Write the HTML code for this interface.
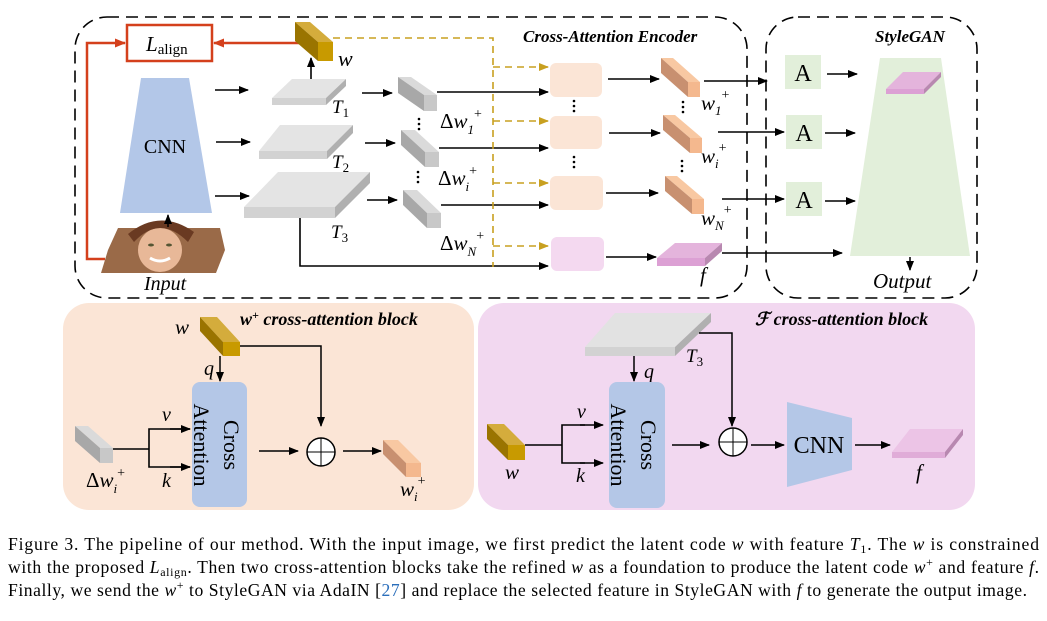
<!DOCTYPE html>
<html><head><meta charset="utf-8"><style>body{margin:0;background:#fff}svg{display:block}</style></head><body>
<svg width="1047" height="621" viewBox="0 0 1047 621" xmlns="http://www.w3.org/2000/svg" font-family="Liberation Serif, serif">
<defs>
<marker id="a" markerWidth="10" markerHeight="8" refX="9" refY="4" orient="auto" markerUnits="userSpaceOnUse"><path d="M0,0 L10,4 L0,8 z" fill="#000"/></marker>
<marker id="ag" markerWidth="10" markerHeight="8" refX="9" refY="4" orient="auto" markerUnits="userSpaceOnUse"><path d="M0,0 L10,4 L0,8 z" fill="#c8a020"/></marker>
<marker id="ar" markerWidth="11" markerHeight="9" refX="10" refY="4.5" orient="auto" markerUnits="userSpaceOnUse"><path d="M0,0 L11,4.5 L0,9 z" fill="#d4401c"/></marker>
</defs>

<rect x="75" y="17" width="672" height="281" rx="32" fill="none" stroke="#000" stroke-width="1.6" stroke-dasharray="12,7"/>
<rect x="766" y="17" width="211" height="281" rx="32" fill="none" stroke="#000" stroke-width="1.6" stroke-dasharray="12,7"/>
<text x="523" y="42" font-size="17" font-weight="bold" font-style="italic">Cross-Attention Encoder</text>
<text x="875" y="42" font-size="17" font-weight="bold" font-style="italic">StyleGAN</text>

<rect x="127" y="25" width="85" height="36" fill="none" stroke="#d4401c" stroke-width="2.5"/>
<text x="146" y="51" font-size="21" font-style="italic">L<tspan font-size="15" font-style="normal" dy="3">align</tspan></text>
<line x1="300" y1="43" x2="214" y2="43" stroke="#d4401c" stroke-width="2.5" marker-end="url(#ar)"/>
<polyline points="105,259 87,259 87,43 125,43" fill="none" stroke="#d4401c" stroke-width="2.5" marker-end="url(#ar)"/>

<polygon points="141,78 189,78 212,213 120,213" fill="#b3c7e8"/>
<text x="165" y="153" font-size="20" text-anchor="middle">CNN</text>
<polygon points="118,228 220,228 225,250 216,273 101,273 108,250" fill="#9a6a48"/>
<ellipse cx="160" cy="250" rx="22" ry="22" fill="#e8b898"/>
<path d="M134,242 Q160,214 188,242 L194,232 Q160,208 128,234 z" fill="#6a3a22"/>
<ellipse cx="151" cy="245" rx="3" ry="1.5" fill="#553"/><ellipse cx="169" cy="245" rx="3" ry="1.5" fill="#553"/>
<path d="M150,258 Q160,264 170,258" stroke="#fff" stroke-width="3" fill="none"/>
<line x1="168" y1="227" x2="168" y2="215" stroke="#000" stroke-width="1.5" marker-end="url(#a)"/>
<text x="144" y="290" font-size="20" font-style="italic">Input</text>

<line x1="215" y1="90" x2="248" y2="90" stroke="#000" stroke-width="1.6" marker-end="url(#a)"/>
<line x1="216" y1="142" x2="250" y2="142" stroke="#000" stroke-width="1.6" marker-end="url(#a)"/>
<line x1="215" y1="196" x2="249" y2="196" stroke="#000" stroke-width="1.6" marker-end="url(#a)"/>

<g>
<polygon points="292,79 346,79 326,98 272,98" fill="#e4e4e4"/><rect x="272" y="98" width="54" height="7" fill="#d2d2d2"/><polygon points="326,98 346,79 346,86 326,105" fill="#b0b0b0"/>
<polygon points="280,125 353,125 327,151 259,151" fill="#e4e4e4"/><rect x="259" y="151" width="68" height="8" fill="#d2d2d2"/><polygon points="327,151 353,125 353,133 327,159" fill="#b0b0b0"/>
<polygon points="278,172 370,172 335,207 244,207" fill="#e4e4e4"/><rect x="244" y="207" width="91" height="11" fill="#d2d2d2"/><polygon points="335,207 370,172 370,183 335,218" fill="#b0b0b0"/>
</g>
<text x="332" y="113" font-size="19" font-style="italic">T<tspan font-size="13" font-style="normal" dy="4">1</tspan></text>
<text x="332" y="168" font-size="19" font-style="italic">T<tspan font-size="13" font-style="normal" dy="4">2</tspan></text>
<text x="331" y="238" font-size="19" font-style="italic">T<tspan font-size="13" font-style="normal" dy="4">3</tspan></text>
<line x1="311" y1="79" x2="311" y2="58" stroke="#000" stroke-width="1.6" marker-end="url(#a)"/>

<polygon points="295,22 310,22 333,42 318,42" fill="#d4ac3c"/><polygon points="295,22 318,42 318,61 295,41" fill="#9a7400"/><rect x="318" y="42" width="15" height="19" fill="#c89a00"/>
<text x="338" y="66" font-size="22" font-style="italic">w</text>

<line x1="362" y1="93" x2="392" y2="93" stroke="#000" stroke-width="1.6" marker-end="url(#a)"/>
<line x1="365" y1="143" x2="395" y2="143" stroke="#000" stroke-width="1.6" marker-end="url(#a)"/>
<line x1="367" y1="200" x2="397" y2="200" stroke="#000" stroke-width="1.6" marker-end="url(#a)"/>

<polygon points="398,77 411,77 437,95 424,95" fill="#dadada"/><polygon points="398,77 424,95 424,111 398,93" fill="#a8a8a8"/><rect x="424" y="95" width="13" height="16" fill="#c8c8c8"/>
<polygon points="401,130 415,130 439,152 425,152" fill="#dadada"/><polygon points="401,130 425,152 425,167 401,145" fill="#a8a8a8"/><rect x="425" y="152" width="14" height="15" fill="#c8c8c8"/>
<polygon points="403,190 417,190 441,213 427,213" fill="#dadada"/><polygon points="403,190 427,213 427,228 403,205" fill="#a8a8a8"/><rect x="427" y="213" width="14" height="15" fill="#c8c8c8"/>
<g fill="#000"><circle cx="419" cy="119" r="1.3"/><circle cx="419" cy="124" r="1.3"/><circle cx="419" cy="129" r="1.3"/>
<circle cx="418" cy="172" r="1.3"/><circle cx="418" cy="177" r="1.3"/><circle cx="418" cy="182" r="1.3"/></g>
<text x="440" y="128" font-size="21"><tspan>Δ</tspan><tspan font-style="italic">w</tspan><tspan font-size="13" font-style="italic" dy="6">1</tspan><tspan font-size="14" dy="-16">+</tspan></text>
<text x="438" y="185" font-size="21"><tspan>Δ</tspan><tspan font-style="italic">w</tspan><tspan font-size="13" font-style="italic" dy="6">i</tspan><tspan font-size="14" dy="-16">+</tspan></text>
<text x="440" y="250" font-size="21"><tspan>Δ</tspan><tspan font-style="italic">w</tspan><tspan font-size="13" font-style="italic" dy="6">N</tspan><tspan font-size="14" dy="-16">+</tspan></text>

<line x1="437" y1="92" x2="548" y2="92" stroke="#000" stroke-width="1.6" marker-end="url(#a)"/>
<line x1="439" y1="148" x2="548" y2="148" stroke="#000" stroke-width="1.6" marker-end="url(#a)"/>
<line x1="441" y1="205" x2="548" y2="205" stroke="#000" stroke-width="1.6" marker-end="url(#a)"/>
<polyline points="300,218 300,266 548,266" fill="none" stroke="#000" stroke-width="1.6" marker-end="url(#a)"/>

<polyline points="333,38 493,38 493,267" fill="none" stroke="#c8a020" stroke-width="1.6" stroke-dasharray="7,5"/>
<g stroke="#c8a020" stroke-width="1.6" stroke-dasharray="7,5" marker-end="url(#ag)">
<line x1="493" y1="67" x2="548" y2="67"/><line x1="493" y1="121" x2="548" y2="121"/><line x1="493" y1="183" x2="548" y2="183"/><line x1="493" y1="246" x2="548" y2="246"/></g>

<rect x="550" y="63" width="52" height="34" rx="6" fill="#fbe5d6"/>
<rect x="550" y="116" width="52" height="33" rx="6" fill="#fbe5d6"/>
<rect x="550" y="176" width="53" height="34" rx="6" fill="#fbe5d6"/>
<rect x="551" y="237" width="53" height="34" rx="6" fill="#f4d9f0"/>
<g fill="#000"><circle cx="574" cy="101" r="1.3"/><circle cx="574" cy="106" r="1.3"/><circle cx="574" cy="111" r="1.3"/>
<circle cx="574" cy="157" r="1.3"/><circle cx="574" cy="162" r="1.3"/><circle cx="574" cy="167" r="1.3"/>
<circle cx="683" cy="102" r="1.3"/><circle cx="683" cy="107" r="1.3"/><circle cx="683" cy="112" r="1.3"/>
<circle cx="682" cy="161" r="1.3"/><circle cx="682" cy="166" r="1.3"/><circle cx="682" cy="171" r="1.3"/></g>

<line x1="608" y1="79" x2="659" y2="79" stroke="#000" stroke-width="1.6" marker-end="url(#a)"/>
<line x1="609" y1="133" x2="660" y2="133" stroke="#000" stroke-width="1.6" marker-end="url(#a)"/>
<line x1="606" y1="193" x2="658" y2="193" stroke="#000" stroke-width="1.6" marker-end="url(#a)"/>
<line x1="606" y1="257" x2="656" y2="257" stroke="#000" stroke-width="1.6" marker-end="url(#a)"/>

<polygon points="661,58 673,58 700,82 688,82" fill="#f8c8a2"/><polygon points="661,58 688,82 688,97 661,73" fill="#c89070"/><rect x="688" y="82" width="12" height="15" fill="#f4b88e"/>
<polygon points="663,115 675,115 702,138 690,138" fill="#f8c8a2"/><polygon points="663,115 690,138 690,153 663,130" fill="#c89070"/><rect x="690" y="138" width="12" height="15" fill="#f4b88e"/>
<polygon points="665,176 677,176 704,199 692,199" fill="#f8c8a2"/><polygon points="665,176 692,199 692,214 665,191" fill="#c89070"/><rect x="692" y="199" width="12" height="15" fill="#f4b88e"/>
<text x="701" y="110" font-size="21" font-style="italic">w<tspan font-size="13" dy="5">1</tspan><tspan font-size="14" font-style="normal" dy="-16">+</tspan></text>
<text x="701" y="163" font-size="21" font-style="italic">w<tspan font-size="13" dy="5">i</tspan><tspan font-size="14" font-style="normal" dy="-16">+</tspan></text>
<text x="701" y="225" font-size="21" font-style="italic">w<tspan font-size="13" dy="5">N</tspan><tspan font-size="14" font-style="normal" dy="-16">+</tspan></text>
<polygon points="675,243 722,243 705,258 657,258" fill="#e4b4dc"/><rect x="657" y="258" width="48" height="8" fill="#dca0d4"/><polygon points="705,258 722,243 722,251 705,266" fill="#b888b0"/>
<text x="700" y="282" font-size="21" font-style="italic">f</text>

<line x1="704" y1="81" x2="767" y2="81" stroke="#000" stroke-width="1.6" marker-end="url(#a)"/>
<line x1="718" y1="132" x2="784" y2="132" stroke="#000" stroke-width="1.6" marker-end="url(#a)"/>
<line x1="722" y1="199" x2="784" y2="199" stroke="#000" stroke-width="1.6" marker-end="url(#a)"/>
<line x1="722" y1="253" x2="842" y2="253" stroke="#000" stroke-width="1.6" marker-end="url(#a)"/>

<rect x="785" y="55" width="36" height="34" fill="#e2efda"/><text x="803" y="81" font-size="24" text-anchor="middle">A</text>
<rect x="786" y="115" width="36" height="34" fill="#e2efda"/><text x="804" y="141" font-size="24" text-anchor="middle">A</text>
<rect x="786" y="182" width="36" height="34" fill="#e2efda"/><text x="804" y="208" font-size="24" text-anchor="middle">A</text>
<line x1="827" y1="74" x2="857" y2="74" stroke="#000" stroke-width="1.6" marker-end="url(#a)"/>
<line x1="825" y1="133" x2="855" y2="133" stroke="#000" stroke-width="1.6" marker-end="url(#a)"/>
<line x1="825" y1="201" x2="855" y2="201" stroke="#000" stroke-width="1.6" marker-end="url(#a)"/>
<polygon points="880,58 941,58 970,256 850,256" fill="#e2efda"/>
<polygon points="903,72 941,72 924,89 886,89" fill="#e4b4dc"/><rect x="886" y="89" width="38" height="5" fill="#dca0d4"/><polygon points="924,89 941,72 941,77 924,94" fill="#b888b0"/>
<line x1="910" y1="257" x2="910" y2="270" stroke="#000" stroke-width="1.5" marker-end="url(#a)"/>
<text x="873" y="288" font-size="21" font-style="italic">Output</text>

<rect x="63" y="303" width="411" height="207" rx="26" fill="#fbe5d6"/>
<text x="240" y="325" font-size="18" font-weight="bold" font-style="italic">w<tspan font-size="12" dy="-6">+</tspan><tspan dy="6"> cross-attention block</tspan></text>
<text x="175" y="334" font-size="21" font-style="italic">w</text>
<polygon points="200,317 217,317 240,342 223,342" fill="#d4ac3c"/><polygon points="200,317 223,342 223,356 200,331" fill="#9a7400"/><rect x="223" y="342" width="17" height="14" fill="#c89a00"/>
<line x1="220" y1="356" x2="220" y2="381" stroke="#000" stroke-width="1.5" marker-end="url(#a)"/>
<text x="204" y="375" font-size="20" font-style="italic">q</text>
<polyline points="240,346 321,346 321,426" fill="none" stroke="#000" stroke-width="1.5" marker-end="url(#a)"/>
<rect x="192" y="382" width="55" height="125" rx="8" fill="#b4c7e7"/>
<text transform="translate(224,445) rotate(90)" font-size="22" text-anchor="middle">Cross</text>
<text transform="translate(194,445) rotate(90)" font-size="22" text-anchor="middle">Attention</text>
<polygon points="75,426 88,426 113,448 100,448" fill="#dadada"/><polygon points="75,426 100,448 100,463 75,441" fill="#a8a8a8"/><rect x="100" y="448" width="13" height="15" fill="#c8c8c8"/>
<polyline points="113,449 149,449" fill="none" stroke="#000" stroke-width="1.6"/>
<polyline points="190,429 149,429 149,467 190,467" fill="none" stroke="#000" stroke-width="1.6"/>
<line x1="170" y1="429" x2="190" y2="429" stroke="#000" stroke-width="1.6" marker-end="url(#a)"/>
<line x1="170" y1="467" x2="190" y2="467" stroke="#000" stroke-width="1.6" marker-end="url(#a)"/>
<text x="162" y="421" font-size="20" font-style="italic">v</text>
<text x="162" y="487" font-size="20" font-style="italic">k</text>
<text x="86" y="487" font-size="21"><tspan>Δ</tspan><tspan font-style="italic">w</tspan><tspan font-size="13" font-style="italic" dy="6">i</tspan><tspan font-size="14" dy="-16">+</tspan></text>
<line x1="259" y1="451" x2="298" y2="451" stroke="#000" stroke-width="1.6" marker-end="url(#a)"/>
<circle cx="321" cy="452" r="14" fill="#fff" stroke="#000" stroke-width="1.5"/><line x1="307" y1="452" x2="335" y2="452" stroke="#000"/><line x1="321" y1="438" x2="321" y2="466" stroke="#000"/>
<line x1="343" y1="451" x2="381" y2="451" stroke="#000" stroke-width="1.6" marker-end="url(#a)"/>
<polygon points="383,440 398,440 421,463 406,463" fill="#f8c8a2"/><polygon points="383,440 406,463 406,477 383,454" fill="#c89070"/><rect x="406" y="463" width="15" height="14" fill="#f4b88e"/>
<text x="400" y="496" font-size="21" font-style="italic">w<tspan font-size="13" dy="5">i</tspan><tspan font-size="14" font-style="normal" dy="-16">+</tspan></text>

<rect x="478" y="303" width="497" height="207" rx="26" fill="#f2d8f0"/>
<text x="755" y="325" font-size="18" font-weight="bold" font-style="italic">ℱ cross-attention block</text>
<polygon points="615,313 711,313 675,347 585,347" fill="#e2e2e2"/><rect x="585" y="347" width="90" height="9" fill="#d2d2d2"/><polygon points="675,347 711,313 711,322 675,356" fill="#b0b0b0"/>
<text x="686" y="362" font-size="19" font-style="italic">T<tspan font-size="13" font-style="normal" dy="4">3</tspan></text>
<polyline points="699,333 732,333 732,426" fill="none" stroke="#000" stroke-width="1.5" marker-end="url(#a)"/>
<line x1="634" y1="356" x2="634" y2="381" stroke="#000" stroke-width="1.5" marker-end="url(#a)"/>
<text x="644" y="378" font-size="20" font-style="italic">q</text>
<rect x="609" y="382" width="56" height="126" rx="8" fill="#b4c7e7"/>
<text transform="translate(641,445) rotate(90)" font-size="22" text-anchor="middle">Cross</text>
<text transform="translate(611,445) rotate(90)" font-size="22" text-anchor="middle">Attention</text>
<polygon points="487,424 504,424 525,445 508,445" fill="#d4ac3c"/><polygon points="487,424 508,445 508,460 487,439" fill="#9a7400"/><rect x="508" y="445" width="17" height="15" fill="#c89a00"/>
<text x="505" y="479" font-size="21" font-style="italic">w</text>
<line x1="525" y1="445" x2="562" y2="445" stroke="#000" stroke-width="1.6"/>
<polyline points="585,425 562,425 562,463 585,463" fill="none" stroke="#000" stroke-width="1.6"/>
<line x1="580" y1="425" x2="603" y2="425" stroke="#000" stroke-width="1.6" marker-end="url(#a)"/>
<line x1="580" y1="463" x2="603" y2="463" stroke="#000" stroke-width="1.6" marker-end="url(#a)"/>
<text x="577" y="418" font-size="20" font-style="italic">v</text>
<text x="576" y="482" font-size="20" font-style="italic">k</text>
<line x1="672" y1="445" x2="709" y2="445" stroke="#000" stroke-width="1.6" marker-end="url(#a)"/>
<circle cx="733" cy="442" r="14" fill="#fff" stroke="#000" stroke-width="1.5"/><line x1="719" y1="442" x2="747" y2="442" stroke="#000"/><line x1="733" y1="428" x2="733" y2="456" stroke="#000"/>
<line x1="751" y1="445" x2="784" y2="445" stroke="#000" stroke-width="1.6" marker-end="url(#a)"/>
<polygon points="787,402 852,418 852,470 787,487" fill="#b4c7e7"/>
<text x="819" y="453" font-size="24" text-anchor="middle">CNN</text>
<line x1="855" y1="445" x2="890" y2="445" stroke="#000" stroke-width="1.6" marker-end="url(#a)"/>
<polygon points="910,429 963,429 945,452 892,452" fill="#ecc4e6"/><rect x="892" y="452" width="53" height="6" fill="#e0acd8"/><polygon points="945,452 963,429 963,435 945,458" fill="#b888b0"/>
<text x="916" y="479" font-size="21" font-style="italic">f</text>

<g font-size="17.6">
<text x="8" y="550" textLength="1031" lengthAdjust="spacing">Figure 3.  The pipeline of our method.  With the input image, we first predict the latent code <tspan font-style="italic">w</tspan> with feature <tspan font-style="italic">T</tspan><tspan font-size="12" dy="3">1</tspan><tspan dy="-3">.  The </tspan><tspan font-style="italic">w</tspan> is constrained</text>
<text x="8" y="573" textLength="1031" lengthAdjust="spacing">with the proposed <tspan font-style="italic">L</tspan><tspan font-size="12" dy="3">align</tspan><tspan dy="-3">. Then two cross-attention blocks take the refined </tspan><tspan font-style="italic">w</tspan> as a foundation to produce the latent code <tspan font-style="italic">w</tspan><tspan font-size="12" dy="-7">+</tspan><tspan dy="7"> and feature </tspan><tspan font-style="italic">f</tspan>.</text>
<text x="8" y="596" textLength="1019" lengthAdjust="spacing">Finally, we send the <tspan font-style="italic">w</tspan><tspan font-size="12" dy="-7">+</tspan><tspan dy="7"> to StyleGAN via AdaIN [</tspan><tspan fill="#2a6ebb">27</tspan>] and replace the selected feature in StyleGAN with <tspan font-style="italic">f</tspan> to generate the output image.</text>
</g>
</svg>
</body></html>
